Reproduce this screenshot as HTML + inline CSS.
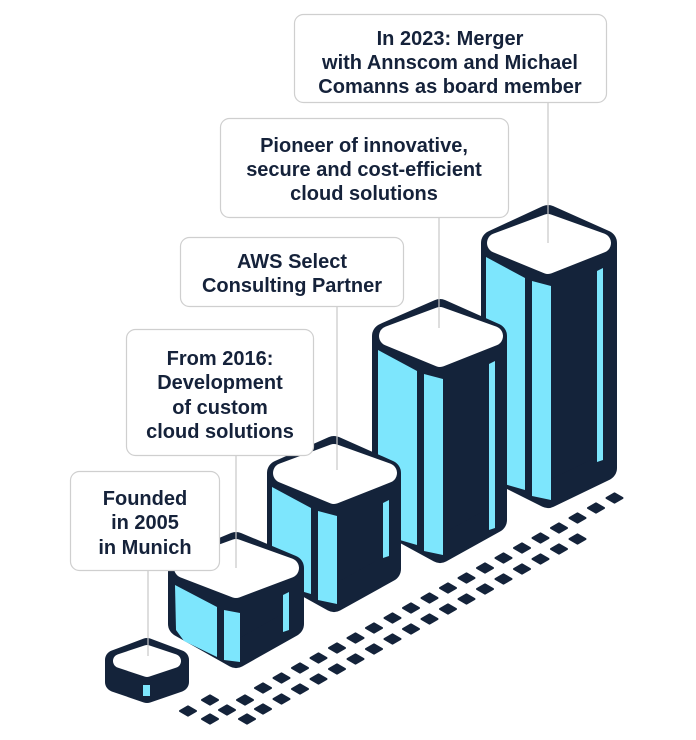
<!DOCTYPE html>
<html><head><meta charset="utf-8"><style>
html,body{margin:0;padding:0;background:#fff;width:696px;height:740px;overflow:hidden}
svg{display:block}
text{font-family:"Liberation Sans",sans-serif;font-weight:bold;font-size:20px;fill:#15223a;text-anchor:middle}
</style></head><body>
<svg width="696" height="740" viewBox="0 0 696 740">
<defs>
<polygon id="d" points="-8,0 0,-4.6 8,0 0,4.6" fill="#14233a" stroke="#14233a" stroke-width="2" stroke-linejoin="round"/>
</defs>
<g>
<use href="#d" x="188" y="711"/><use href="#d" x="210" y="700"/><use href="#d" x="210" y="719"/>
<use href="#d" x="227" y="710"/><use href="#d" x="245" y="700"/><use href="#d" x="247" y="719"/>
<use href="#d" x="263" y="688"/><use href="#d" x="281.5" y="678"/><use href="#d" x="300" y="668"/><use href="#d" x="318.5" y="658"/><use href="#d" x="337" y="648"/><use href="#d" x="355.5" y="638"/><use href="#d" x="374" y="628"/><use href="#d" x="392.5" y="618"/><use href="#d" x="411" y="608"/><use href="#d" x="429.5" y="598"/><use href="#d" x="448" y="588"/><use href="#d" x="466.5" y="578"/><use href="#d" x="485" y="568"/><use href="#d" x="503.5" y="558"/><use href="#d" x="522" y="548"/><use href="#d" x="540.5" y="538"/><use href="#d" x="559" y="528"/><use href="#d" x="577.5" y="518"/><use href="#d" x="596" y="508"/><use href="#d" x="614.5" y="498"/>
<use href="#d" x="263" y="709"/><use href="#d" x="281.5" y="699"/><use href="#d" x="300" y="689"/><use href="#d" x="318.5" y="679"/><use href="#d" x="337" y="669"/><use href="#d" x="355.5" y="659"/><use href="#d" x="374" y="649"/><use href="#d" x="392.5" y="639"/><use href="#d" x="411" y="629"/><use href="#d" x="429.5" y="619"/><use href="#d" x="448" y="609"/><use href="#d" x="466.5" y="599"/><use href="#d" x="485" y="589"/><use href="#d" x="503.5" y="579"/><use href="#d" x="522" y="569"/><use href="#d" x="540.5" y="559"/><use href="#d" x="559" y="549"/><use href="#d" x="577.5" y="539"/>
</g>

<!-- block 5 -->
<g>
<polygon points="494,243 548,218 604,243 604,468 548,495 494,468" fill="#14233a" stroke="#14233a" stroke-width="26" stroke-linejoin="round"/>
<polygon points="486,257 525,278 525,490 494,481 486,470" fill="#7de6fd"/>
<polygon points="532,281 551,286 551,500 532,496" fill="#7de6fd"/>
<polygon points="597,271 603,268 603,460 597,462" fill="#7de6fd"/>
<polygon points="497,243 548,224 601,243 548,264" fill="#fff" stroke="#fff" stroke-width="20" stroke-linejoin="round"/>
</g>
<!-- block 4 -->
<g>
<polygon points="385,336 440,312 494,336 494,520 440,550 385,520" fill="#14233a" stroke="#14233a" stroke-width="26" stroke-linejoin="round"/>
<polygon points="378,350 417,371 417,545 386,536 378,525" fill="#7de6fd"/>
<polygon points="424,374 443,379 443,555 424,551" fill="#7de6fd"/>
<polygon points="489,364 495,361 495,528 489,530" fill="#7de6fd"/>
<polygon points="389,336 440,317 493,336 440,357" fill="#fff" stroke="#fff" stroke-width="20" stroke-linejoin="round"/>
</g>
<!-- block 3 -->
<g>
<polygon points="280,473 334,449 388,473 388,569 334,599 280,569" fill="#14233a" stroke="#14233a" stroke-width="26" stroke-linejoin="round"/>
<polygon points="272,487 311,508 311,594 280,585 272,574" fill="#7de6fd"/>
<polygon points="318,511 337,516 337,604 318,600" fill="#7de6fd"/>
<polygon points="383,503 389,500 389,556 383,558" fill="#7de6fd"/>
<polygon points="283,473 334,454 387,473 334,494" fill="#fff" stroke="#fff" stroke-width="20" stroke-linejoin="round"/>
</g>
<!-- block 2 -->
<g>
<polygon points="181,568 236,545 291,568 291,624 236,655 181,624" fill="#14233a" stroke="#14233a" stroke-width="26" stroke-linejoin="round"/>
<polygon points="175,585 217,607 217,657 184,641 176,630" fill="#7de6fd"/>
<polygon points="224,610 240,613 240,662 224,660" fill="#7de6fd"/>
<polygon points="283,595 289,592 289,630 283,632" fill="#7de6fd"/>
<polygon points="184,568 236,549 289,568 236,588" fill="#fff" stroke="#fff" stroke-width="20" stroke-linejoin="round"/>
</g>
<!-- block 1 -->
<g>
<polygon points="115,660 147,648 179,660 179,682 147,693 115,682" fill="#14233a" stroke="#14233a" stroke-width="20" stroke-linejoin="round"/>
<rect x="143" y="685" width="7" height="11" fill="#7de6fd"/>
<polygon points="120,661 147,652 174,661 147,670" fill="#fff" stroke="#fff" stroke-width="14" stroke-linejoin="round"/>
</g>

<g stroke="#c9c9c9" stroke-width="1.2">
<line x1="148" y1="571" x2="148" y2="656"/>
<line x1="236" y1="456" x2="236" y2="568"/>
<line x1="337" y1="306" x2="337" y2="470"/>
<line x1="439" y1="217" x2="439" y2="328"/>
<line x1="548" y1="102" x2="548" y2="243"/>
</g>

<g fill="#fff" stroke="#cfcfcf" stroke-width="1.2">
<rect x="70.5" y="471.5" width="149" height="99" rx="9"/>
<rect x="126.5" y="329.5" width="187" height="126" rx="9"/>
<rect x="180.5" y="237.5" width="223" height="69" rx="9"/>
<rect x="220.5" y="118.5" width="288" height="99" rx="9"/>
<rect x="294.5" y="14.5" width="312" height="88" rx="9"/>
</g>
<text x="145" y="505">Founded</text>
<text x="145" y="529">in 2005</text>
<text x="145" y="554">in Munich</text>
<text x="220" y="365">From 2016:</text>
<text x="220" y="389">Development</text>
<text x="220" y="414">of custom</text>
<text x="220" y="438">cloud solutions</text>
<text x="292" y="268">AWS Select</text>
<text x="292" y="292">Consulting Partner</text>
<text x="364" y="152">Pioneer of innovative,</text>
<text x="364" y="176">secure and cost-efficient</text>
<text x="364" y="200">cloud solutions</text>
<text x="450" y="45">In 2023: Merger</text>
<text x="450" y="69">with Annscom and Michael</text>
<text x="450" y="93">Comanns as board member</text>
</svg>
</body></html>
